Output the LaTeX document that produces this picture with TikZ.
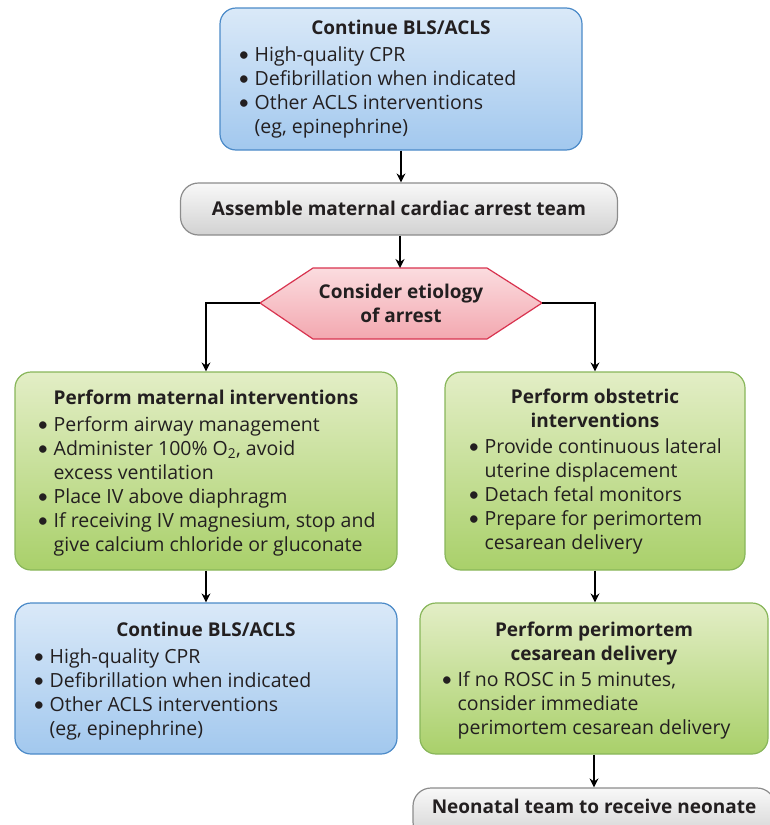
\documentclass[tikz,border=0pt]{standalone}
\usepackage{fontspec}
\setmainfont{Open Sans}
\newfontfamily\bulfont{Lato}
\usetikzlibrary{arrows.meta}
\definecolor{txt}{HTML}{231F20}
\definecolor{bluetop}{HTML}{DAE9F8}
\definecolor{bluebot}{HTML}{A2C8EE}
\definecolor{blueline}{HTML}{4B8AC8}
\definecolor{greentop}{HTML}{E3EEC6}
\definecolor{greenbot}{HTML}{A9D06A}
\definecolor{greenline}{HTML}{88B65A}
\definecolor{graytop}{HTML}{F8F8F8}
\definecolor{graybot}{HTML}{D2D2D2}
\definecolor{grayline}{HTML}{8C8C8C}
\definecolor{pinktop}{HTML}{FBDCDF}
\definecolor{pinkbot}{HTML}{F3A8B0}
\definecolor{pinkline}{HTML}{D8334F}
\newcommand{\bu}{\makebox[16.5pt][l]{{\bulfont\fontsize{20}{24}\selectfont •}}}
\newcommand{\ind}{\hspace*{16.5pt}}
\begin{document}
\begin{tikzpicture}[x=1pt,y=-1pt,
  font=\fontsize{19.5}{24}\selectfont, text=txt,
  bluebox/.style={draw=blueline, line width=1.2pt, rounded corners=16pt, top color=bluetop, bottom color=bluebot, inner sep=0pt},
  greenbox/.style={draw=greenline, line width=1.2pt, rounded corners=16pt, top color=greentop, bottom color=greenbot, inner sep=0pt},
  graybox/.style={draw=grayline, line width=1.2pt, rounded corners=18pt, top color=graytop, bottom color=graybot, inner sep=0pt},
  ttl/.style={anchor=north, inner sep=0pt, align=center, font=\fontsize{19}{24}\selectfont\bfseries},
  lst/.style={anchor=north west, inner sep=0pt, align=left},
  arr/.style={-{Stealth[length=9pt,width=9pt,inset=3pt]}, line width=1.8pt, black}]
\useasboundingbox (0,0) rectangle (769,825);

% boxes
\node[bluebox, minimum width=362pt, minimum height=142pt] (top) at (401,79) {};
\node[graybox, minimum width=437pt, minimum height=52pt] (team) at (399,209) {};
\shadedraw[draw=pinkline, line width=1.2pt, top color=pinktop, bottom color=pinkbot]
  (260,303) -- (313,268) -- (487,268) -- (542,303) -- (487,339) -- (313,339) -- cycle;
\coordinate (hexL) at (260,303);
\coordinate (hexR) at (542,303);
\coordinate (hexT) at (400,268);
\node[greenbox, minimum width=382pt, minimum height=198pt] (mat) at (206,471) {};
\node[greenbox, minimum width=300pt, minimum height=198pt] (obs) at (595,471) {};
\node[bluebox, minimum width=382pt, minimum height=151pt] (bls) at (206,678.5) {};
\node[greenbox, minimum width=348pt, minimum height=151pt] (pcd) at (594,678.5) {};
\node[graybox, minimum width=362pt, minimum height=52pt] (neo) at (594,814) {};

% texts
\node[ttl] (topT) at (401,17.2) {\strut Continue BLS/ACLS};
\node[lst] (topL) at (238,44.2) {\strut\bu High-quality CPR\\
\bu Defibrillation when indicated\\
\bu Other ACLS interventions\\
\ind (eg, epinephrine)};
\node[ttl] (teamT) at (399,198.2) {\strut Assemble maternal cardiac arrest team};
\node[ttl] (hexText) at (401,281.2) {\strut Consider etiology\\of arrest};
\node[ttl] (matT) at (206,387.2) {\strut Perform maternal interventions};
\node[lst] (matL) at (37,414.2) {\strut\bu Perform airway management\\
\bu Administer 100\% O\textsubscript{2}, avoid\\
\ind excess ventilation\\
\bu Place IV above diaphragm\\
\bu If receiving IV magnesium, stop and\\
\ind give calcium chloride or gluconate};
\node[ttl] (obsT) at (595,386.2) {\strut Perform obstetric\\interventions};
\node[lst] (obsL) at (468,436.2) {\strut\bu Provide continuous lateral\\
\ind uterine displacement\\
\bu Detach fetal monitors\\
\bu Prepare for perimortem\\
\ind cesarean delivery};
\node[ttl] (blsT) at (206,619.2) {\strut Continue BLS/ACLS};
\node[lst] (blsL) at (33,646.2) {\strut\bu High-quality CPR\\
\bu Defibrillation when indicated\\
\bu Other ACLS interventions\\
\ind (eg, epinephrine)};
\node[ttl] (pcdT) at (594,619.2) {\strut Perform perimortem\\cesarean delivery};
\node[lst] (pcdL) at (441,669.2) {\strut\bu If no ROSC in 5 minutes,\\
\ind consider immediate\\
\ind perimortem cesarean delivery};
\node[ttl] (neoT) at (594,796.2) {\strut Neonatal team to receive neonate};

% connectors
\draw[arr] (top.south) -- (top.south |- team.north);
\draw[arr] (team.south -| hexT) -- (hexT);
\draw[arr] (hexL) -| (mat.north);
\draw[arr] (hexR) -| (obs.north);
\draw[arr] (mat.south) -- (bls.north);
\draw[arr] (obs.south) -- (obs.south |- pcd.north);
\draw[arr] (pcd.south) -- (neo.north);
\end{tikzpicture}
\end{document}
